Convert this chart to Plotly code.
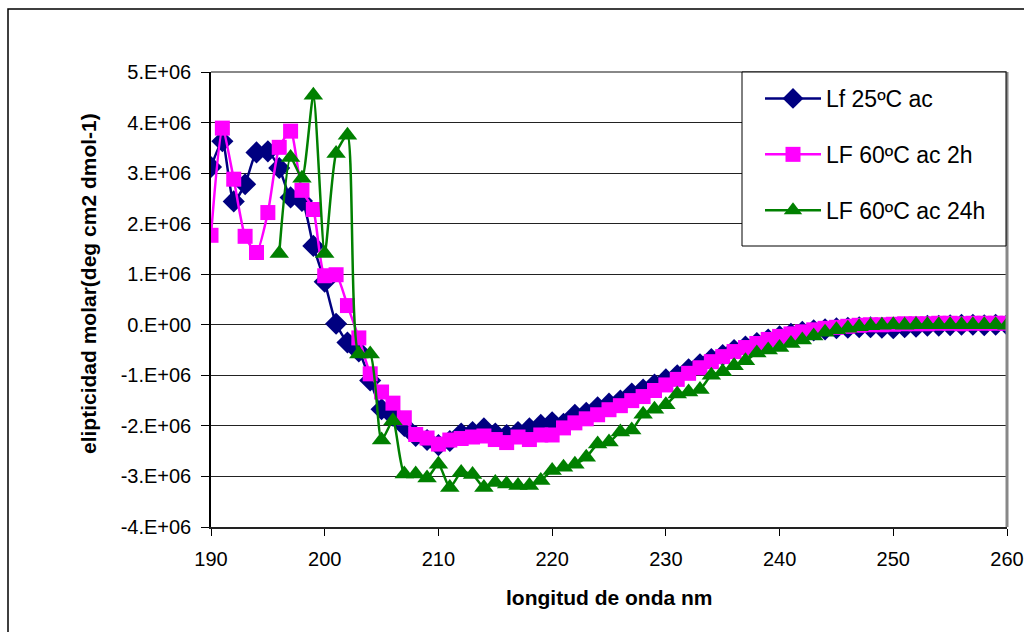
import plotly.graph_objects as go

wavelength = [190, 191, 192, 193, 194, 195, 196, 197, 198, 199,
              200, 201, 202, 203, 204, 205, 206, 207, 208, 209,
              210, 211, 212, 213, 214, 215, 216, 217, 218, 219,
              220, 221, 222, 223, 224, 225, 226, 227, 228, 229,
              230, 231, 232, 233, 234, 235, 236, 237, 238, 239,
              240, 241, 242, 243, 244, 245, 246, 247, 248, 249,
              250, 251, 252, 253, 254, 255, 256, 257, 258, 259, 260]

lf_25 = [3.12e6, 3.63e6, 2.44e6, 2.78e6, 3.41e6, 3.43e6, 3.10e6, 2.52e6, 2.45e6, 1.56e6,
         0.85e6, 0.02e6, -0.35e6, -0.53e6, -1.10e6, -1.67e6, -1.80e6, -2.00e6, -2.20e6, -2.28e6,
         -2.38e6, -2.30e6, -2.15e6, -2.12e6, -2.05e6, -2.15e6, -2.18e6, -2.12e6, -2.05e6, -1.98e6,
         -1.93e6, -1.96e6, -1.78e6, -1.74e6, -1.63e6, -1.56e6, -1.50e6, -1.36e6, -1.28e6, -1.18e6,
         -1.08e6, -1.00e6, -0.88e6, -0.78e6, -0.68e6, -0.60e6, -0.50e6, -0.43e6, -0.36e6, -0.29e6,
         -0.23e6, -0.18e6, -0.14e6, -0.11e6, -0.09e6, -0.07e6, -0.06e6, -0.05e6, -0.05e6, -0.06e6,
         -0.07e6, -0.05e6, -0.04e6, -0.02e6, -0.02e6, -0.01e6, 0.0, 0.0, -0.01e6, 0.0, 0.0]

lf_60_2h = [1.77e6, 3.89e6, 2.88e6, 1.75e6, 1.43e6, 2.22e6, 3.51e6, 3.83e6, 2.66e6, 2.28e6,
            0.97e6, 0.99e6, 0.38e6, -0.26e6, -0.97e6, -1.33e6, -1.55e6, -1.84e6, -2.17e6, -2.24e6,
            -2.36e6, -2.28e6, -2.25e6, -2.22e6, -2.20e6, -2.27e6, -2.33e6, -2.22e6, -2.27e6, -2.18e6,
            -2.18e6, -2.04e6, -1.94e6, -1.86e6, -1.78e6, -1.68e6, -1.60e6, -1.50e6, -1.42e6, -1.30e6,
            -1.19e6, -1.08e6, -0.96e6, -0.85e6, -0.73e6, -0.63e6, -0.53e6, -0.45e6, -0.37e6, -0.29e6,
            -0.23e6, -0.18e6, -0.14e6, -0.10e6, -0.07e6, -0.05e6, -0.03e6, -0.01e6, 0.0, 0.0,
            0.01e6, 0.02e6, 0.02e6, 0.02e6, 0.03e6, 0.03e6, 0.02e6, 0.03e6, 0.03e6, 0.03e6, 0.03e6]

wavelength_24h = [196, 197, 198, 199,
                  200, 201, 202, 203, 204, 205, 206, 207, 208, 209,
                  210, 211, 212, 213, 214, 215, 216, 217, 218, 219,
                  220, 221, 222, 223, 224, 225, 226, 227, 228, 229,
                  230, 231, 232, 233, 234, 235, 236, 237, 238, 239,
                  240, 241, 242, 243, 244, 245, 246, 247, 248, 249,
                  250, 251, 252, 253, 254, 255, 256, 257, 258, 259, 260]

lf_60_24h = [1.41e6, 3.31e6, 2.90e6, 4.54e6,
             1.41e6, 3.39e6, 3.75e6, -0.58e6, -0.58e6, -2.28e6, -1.90e6, -2.95e6, -2.95e6, -3.03e6,
             -2.76e6, -3.22e6, -2.92e6, -2.96e6, -3.22e6, -3.12e6, -3.15e6, -3.18e6, -3.18e6, -3.08e6,
             -2.88e6, -2.82e6, -2.76e6, -2.62e6, -2.36e6, -2.32e6, -2.12e6, -2.08e6, -1.77e6, -1.67e6,
             -1.58e6, -1.37e6, -1.33e6, -1.28e6, -1.00e6, -0.93e6, -0.81e6, -0.71e6, -0.56e6, -0.50e6,
             -0.45e6, -0.37e6, -0.30e6, -0.22e6, -0.15e6, -0.10e6, -0.07e6, -0.04e6, -0.02e6, -0.01e6,
             0.0, -0.01e6, 0.0, 0.0, 0.0, 0.0, 0.0, 0.0, 0.0, 0.0, -0.01e6]

x_ticks = [190, 200, 210, 220, 230, 240, 250, 260]
y_ticks = [-4e6, -3e6, -2e6, -1e6, 0, 1e6, 2e6, 3e6, 4e6, 5e6]
y_ticktext = ["-4.E+06", "-3.E+06", "-2.E+06", "-1.E+06", "0.E+00",
              "1.E+06", "2.E+06", "3.E+06", "4.E+06", "5.E+06"]

series_names = ["Lf 25ºC ac", "LF 60ºC ac 2h", "LF 60ºC ac 24h"]

FONT = "Liberation Sans, Arial, sans-serif"

fig = go.Figure()
fig.add_trace(go.Scatter(
    x=wavelength, y=lf_25, name=series_names[0], mode="lines+markers",
    line=dict(color="#000080", width=2.5, shape="spline", smoothing=0.6),
    marker=dict(symbol="diamond", size=17, color="#000080"),
    legendgroup="a"))
fig.add_trace(go.Scatter(
    x=wavelength, y=lf_60_2h, name=series_names[1], mode="lines+markers",
    line=dict(color="#FF00FF", width=2.5, shape="spline", smoothing=0.6),
    marker=dict(symbol="square", size=15, color="#FF00FF"),
    legendgroup="b"))
fig.add_trace(go.Scatter(
    x=wavelength_24h, y=lf_60_24h, name=series_names[2], mode="lines+markers",
    line=dict(color="#008000", width=2.5, shape="spline", smoothing=0.6),
    marker=dict(symbol="triangle-up", size=17, color="#008000"),
    legendgroup="c"))

L, R, T, B = 211, 17, 72, 105
W, H = 1024, 632
pw, ph = W - L - R, H - T - B

def px_x(p):
    return (p - L) / pw

def px_y(p):
    return (H - B - p) / ph

fig.update_layout(
    width=W, height=H,
    margin=dict(l=L, r=R, t=T, b=B, pad=0, autoexpand=False),
    paper_bgcolor="white", plot_bgcolor="white",
    font=dict(family=FONT, size=20, color="black"),
    showlegend=True,
    legend=dict(
        x=px_x(760), y=px_y(77), xanchor="left", yanchor="top",
        bgcolor="rgba(0,0,0,0)", borderwidth=0,
        font=dict(family=FONT, size=23, color="black"),
        tracegroupgap=23, itemwidth=56,
    ),
    xaxis=dict(
        range=[190, 260], tickvals=x_ticks, ticks="outside", ticklen=7,
        tickcolor="black", showgrid=False, zeroline=False, automargin=False,
        showline=True, linecolor="#222222", linewidth=2,
        tickfont=dict(family=FONT, size=20), ticklabelstandoff=6,
    ),
    yaxis=dict(
        range=[-4e6, 5e6], tickvals=y_ticks, ticktext=y_ticktext,
        ticks="outside", ticklen=8, tickcolor="black", automargin=False,
        showgrid=True, gridcolor="#222222", gridwidth=1, zeroline=False,
        showline=True, linecolor="black", linewidth=1.5,
        tickfont=dict(family=FONT, size=20), ticklabelstandoff=6,
    ),
    shapes=[
        dict(type="rect", xref="paper", yref="paper",
             x0=px_x(8), x1=px_x(1100), y0=px_y(700), y1=px_y(9),
             line=dict(color="black", width=1.5), fillcolor="rgba(0,0,0,0)"),
        dict(type="line", xref="paper", yref="paper", x0=0, x1=1, y0=1, y1=1,
             line=dict(color="#888888", width=2)),
        dict(type="line", xref="paper", yref="paper", x0=1, x1=1, y0=0, y1=1,
             line=dict(color="#888888", width=3)),
        dict(type="rect", xref="paper", yref="paper", layer="above",
             x0=px_x(742), x1=px_x(1006), y0=px_y(246), y1=px_y(72),
             line=dict(color="black", width=1), fillcolor="white"),
    ],
    annotations=[
        dict(text="<b>elipticidad molar(deg cm2 dmol-1)</b>", xref="paper", yref="paper",
             x=px_x(88), y=px_y(284), textangle=-90, showarrow=False,
             xanchor="center", yanchor="middle", font=dict(family=FONT, size=21)),
        dict(text="<b>longitud de onda nm</b>", xref="paper", yref="paper",
             x=0.5, y=px_y(597), showarrow=False,
             xanchor="center", yanchor="middle", font=dict(family=FONT, size=21)),
    ],
)

fig.write_html("out.html")
